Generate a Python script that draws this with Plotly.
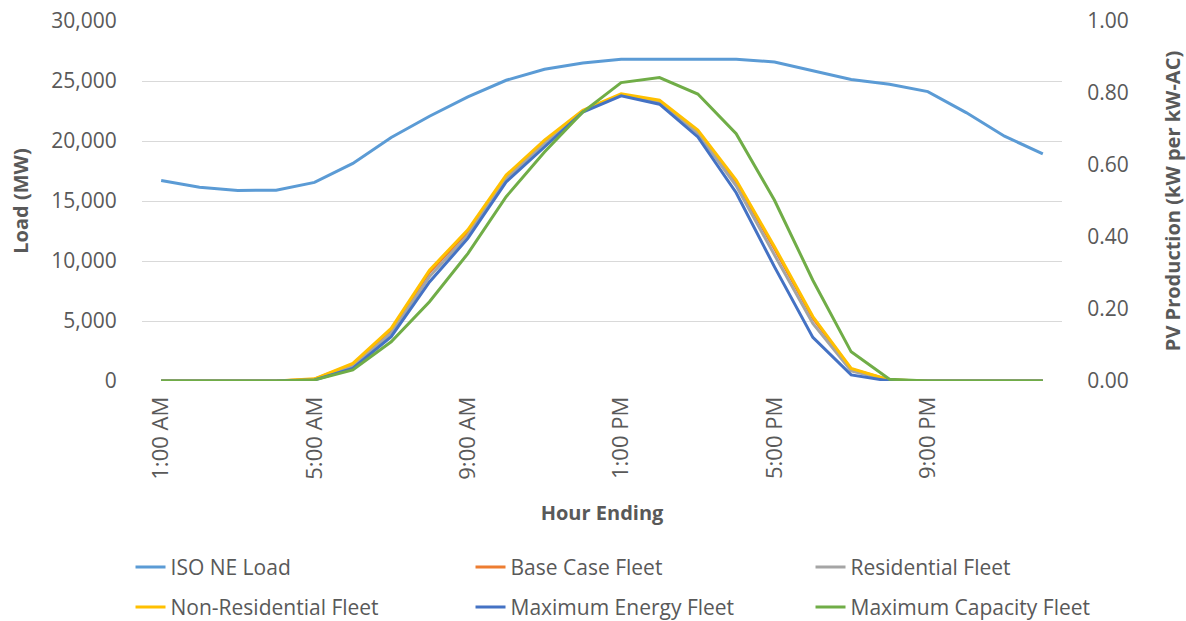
import plotly.graph_objects as go

hours = ["1:00 AM", "2:00 AM", "3:00 AM", "4:00 AM", "5:00 AM", "6:00 AM", "7:00 AM", "8:00 AM",
         "9:00 AM", "10:00 AM", "11:00 AM", "12:00 PM", "1:00 PM", "2:00 PM", "3:00 PM", "4:00 PM",
         "5:00 PM", "6:00 PM", "7:00 PM", "8:00 PM", "9:00 PM", "10:00 PM", "11:00 PM", "12:00 AM"]
tick_labels = ["1:00 AM", "5:00 AM", "9:00 AM", "1:00 PM", "5:00 PM", "9:00 PM"]

iso_ne_load = [16700, 16150, 15880, 15900, 16550, 18130, 20290, 22060, 23670, 25060, 25980, 26500,
               26810, 26810, 26810, 26810, 26590, 25840, 25120, 24730, 24120, 22370, 20400, 18930]
base_case = [0, 0, 0, 0, 0.005, 0.046, 0.142, 0.302, 0.415, 0.567, 0.665, 0.750,
             0.796, 0.777, 0.693, 0.553, 0.368, 0.175, 0.033, 0.003, 0, 0, 0, 0]
residential = [0, 0, 0, 0, 0.004, 0.040, 0.133, 0.290, 0.405, 0.561, 0.659, 0.749,
               0.795, 0.774, 0.688, 0.542, 0.350, 0.160, 0.028, 0.002, 0, 0, 0, 0]
non_residential = [0, 0, 0, 0, 0.006, 0.049, 0.146, 0.308, 0.420, 0.572, 0.669, 0.752,
                   0.798, 0.780, 0.697, 0.558, 0.373, 0.179, 0.035, 0.003, 0, 0, 0, 0]
max_energy = [0, 0, 0, 0, 0.003, 0.035, 0.123, 0.275, 0.396, 0.553, 0.650, 0.747,
              0.792, 0.769, 0.678, 0.523, 0.317, 0.121, 0.017, 0, 0, 0, 0, 0]
max_capacity = [0, 0, 0, 0, 0.003, 0.031, 0.109, 0.220, 0.354, 0.512, 0.636, 0.747,
                0.829, 0.843, 0.797, 0.687, 0.502, 0.280, 0.081, 0.005, 0, 0, 0, 0]

FONT = "Open Sans"
GREY = "#595959"
W, H = 1186, 621
ML, MR, MT, MB = 141.5, 123.5, 20.7, 240.3
PW, PH = W - ML - MR, H - MT - MB

fig = go.Figure()
fig.add_trace(go.Scatter(x=hours, y=iso_ne_load, name="ISO NE Load", mode="lines",
                         line=dict(color="#5B9BD5", width=3), legend="legend"))
pv = [("Base Case Fleet", base_case, "#ED7D31", "legend"),
      ("Residential Fleet", residential, "#A5A5A5", "legend"),
      ("Non-Residential Fleet", non_residential, "#FFC000", "legend2"),
      ("Maximum Energy Fleet", max_energy, "#4472C4", "legend2"),
      ("Maximum Capacity Fleet", max_capacity, "#70AD47", "legend2")]
for name, vals, col, lg in pv:
    fig.add_trace(go.Scatter(x=hours, y=vals, name=name, mode="lines", yaxis="y2",
                             line=dict(color=col, width=3), legend=lg))

leg_common = dict(orientation="h", font=dict(family=FONT, size=21, color=GREY),
                  entrywidth=295, entrywidthmode="pixels", xanchor="left", yanchor="middle",
                  bgcolor="rgba(0,0,0,0)", itemwidth=30, tracegroupgap=0)

def px_x(p):
    return (p - ML) / PW

def px_y(p):
    return (H - MB - p) / PH

CLEAR = "rgba(0,0,0,0)"

fig.update_layout(
    width=W, height=H,
    margin=dict(l=ML, r=MR, t=MT, b=MB, autoexpand=False),
    paper_bgcolor="white", plot_bgcolor="white",
    font=dict(family=FONT, color=GREY),
    xaxis=dict(type="category", tickvals=tick_labels, ticktext=tick_labels, tickangle=-90,
               range=[-0.5, 23.5], automargin=False,
               showgrid=False, zeroline=False, showline=False, ticks="outside", ticklen=6,
               tickcolor=CLEAR,
               tickfont=dict(family=FONT, size=22, color=GREY),
               title=dict(text="<b>Hour Ending</b>", font=dict(family=FONT, size=20, color=GREY),
                          standoff=27)),
    yaxis=dict(range=[0, 30000], dtick=5000, tickformat=",", showgrid=True, gridcolor="#D9D9D9",
               gridwidth=1, zeroline=False, showline=False, automargin=False,
               ticks="outside", ticklen=20, tickcolor=CLEAR,
               tickfont=dict(family=FONT, size=21, color=GREY),
               title=dict(text="<b>Load (MW)</b>", font=dict(family=FONT, size=20, color=GREY),
                          standoff=17)),
    yaxis2=dict(range=[0, 1], dtick=0.2, tickformat=".2f", overlaying="y", side="right",
                showgrid=False, zeroline=False, showline=False, automargin=False,
                ticks="outside", ticklen=20, tickcolor=CLEAR,
                tickfont=dict(family=FONT, size=21, color=GREY),
                title=dict(text="<b>PV Production (kW per kW-AC)</b>",
                           font=dict(family=FONT, size=20, color=GREY), standoff=45)),
    legend=dict(**leg_common, x=px_x(130), y=px_y(567)),
    legend2=dict(**leg_common, x=px_x(130), y=px_y(607)),
    showlegend=True,
)

fig.write_html("out.html", config={"displayModeBar": False},
               post_script="document.body.style.margin='0';document.body.style.padding='0';")
